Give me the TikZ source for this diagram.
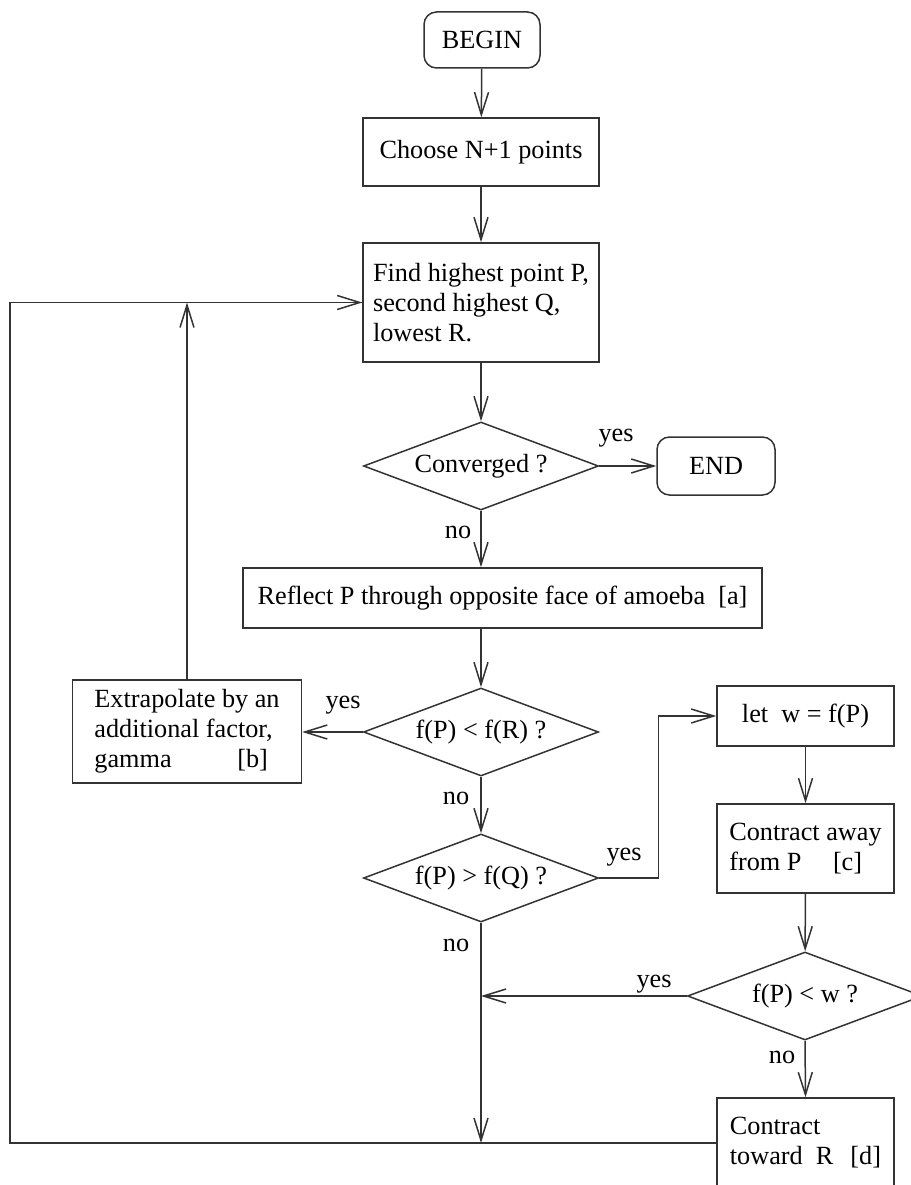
\documentclass[tikz,border=0pt]{standalone}
\usepackage{fontspec}
\setmainfont{Liberation Serif}
\usetikzlibrary{shapes.geometric,arrows.meta}
\tikzset{
	every node/.style={font=\fontsize{10.5}{12}\selectfont},
	flow/.style={draw=black!80,line width=0.6pt},
	box/.style={flow,rectangle,inner sep=2pt},
	term/.style={box,rounded corners=5pt},
	decision/.style={flow,diamond,aspect=2.67,inner sep=0pt,minimum width=94pt,minimum height=35.2pt},
	arr/.style={flow,-{Straight Barb[length=9pt,width=5.6pt]}},
	line/.style={flow},
	lbl/.style={inner sep=0pt}
}
\begin{document}
\begin{tikzpicture}[x=0.4pt,y=-0.4pt]
\clip (0,0) rectangle (911,1185);
% main column
\node[term,minimum width=46.4pt,minimum height=22.4pt] (begin) at (482,40) {BEGIN};
\node[box,minimum width=94.4pt,minimum height=27.2pt] (choose) at (481,152) {Choose N+1 points};
\node[box,minimum width=94.4pt,minimum height=47.6pt,align=left] (find) at (481,302.5)
	{Find highest point P,\\second highest Q,\\lowest R.};
\node[decision] (conv) at (481,466) {Converged ?};
\node[term,minimum width=47.2pt,minimum height=23.2pt] (end) at (716,466) {END};
\node[box,minimum width=207.6pt,minimum height=24pt] (reflect) at (502.5,598)
	{Reflect P through opposite face of amoeba\hspace{0.5em}[a]};
\node[decision] (fr) at (481,732) {f(P) < f(R) ?};
\node[box,minimum width=91.6pt,minimum height=41.2pt,align=left] (extra) at (187,731.5)
	{Extrapolate by an\\additional factor,\\gamma\hspace{2.5em}[b]};
\node[decision] (fq) at (481,878) {f(P) > f(Q) ?};
% right column
\node[box,minimum width=70.8pt,minimum height=24pt] (letw) at (805.5,716)
	{let\hspace{0.5em}w = f(P)};
\node[box,minimum width=70.8pt,minimum height=35.6pt,align=left] (away) at (805.5,848.5)
	{Contract away\\from P\hspace{1.2em}[c]};
\node[decision] (fw) at (805,996) {f(P) < w ?};
\node[box,minimum width=70.8pt,minimum height=36pt,align=left] (toward) at (805.5,1143)
	{Contract\\toward\hspace{0.5em}R\hspace{0.65em}[d]};
\coordinate (corner) at (10,1143);

% labels
\node[lbl] (yesconv) at (616,438) {yes};
\node[lbl] (noconv) at (458,532) {no};
\node[lbl] (yesfr) at (343,705) {yes};
\node[lbl] (nofr) at (456,798) {no};
\node[lbl] (yesfq) at (624,857) {yes};
\node[lbl] (nofq) at (456,945) {no};
\node[lbl] (yesfw) at (654,984) {yes};
\node[lbl] (nofw) at (782,1057) {no};

% connectors
\draw[arr] (begin) -- (choose);
\draw[arr] (choose) -- (find);
\draw[arr] (find) -- (conv);
\draw[arr] (conv.east) -- (end.west);
\draw[arr] (conv.south) -- (conv.south |- reflect.north);
\draw[arr] (fr.north |- reflect.south) -- (fr.north);
\draw[arr] (fr.west) -- (extra.east |- fr.west);
\draw[arr] (extra.north) -- (extra.north |- find.west);
\draw[arr] (fr.south) -- (fq.north);
\draw[arr] (fq.east) -- ++(59,0) |- (letw.west);
\draw[arr] (letw) -- (away);
\draw[arr] (away) -- (fw);
\draw[arr] (fw.west) -- (fw.west -| fq.south);
\draw[arr] (fw.south) -- (toward.north);
\draw[arr] (fq.south) -- (fq.south |- toward.west);
\draw[line] (toward.west) -- (corner) |- (find.west);
\draw[arr] (corner |- find.west) -- (find.west);
\end{tikzpicture}
\end{document}
